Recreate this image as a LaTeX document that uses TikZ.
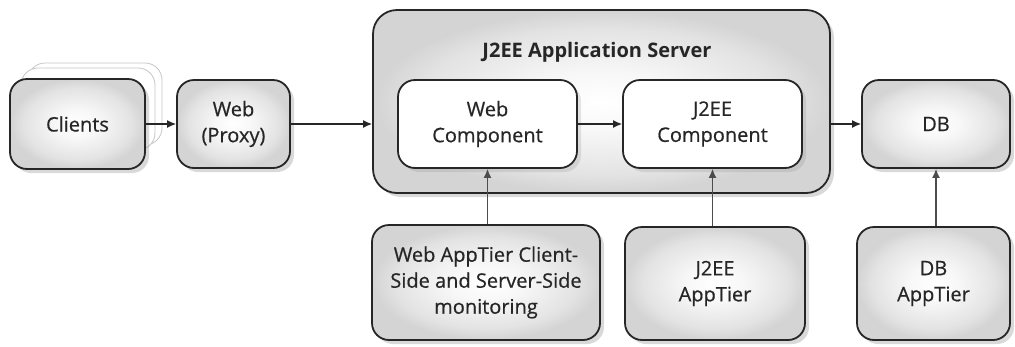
\documentclass[tikz,border=0pt]{standalone}
\usepackage{fontspec}
\setmainfont{Open Sans}
\newfontfamily\medfont[FakeBold=0.6]{Open Sans}
\usetikzlibrary{shadows,arrows.meta}
\pgfdeclareradialshading{softgray}{\pgfpoint{0bp}{0bp}}{color(0bp)=(white); color(8bp)=(black!3); color(20bp)=(black!11); color(25bp)=(black!17); color(50bp)=(black!17)}
\begin{document}
\begin{tikzpicture}[x=1pt,y=-1pt,
  lbl/.style={font=\medfont\fontsize{20}{26}\selectfont, text=black!85, align=center},
  box/.style={draw=black!85, line width=1.8pt, rounded corners=17pt,
    shading=softgray,
    drop shadow={shadow xshift=4pt, shadow yshift=-4pt, opacity=0.3, fill=gray},
    inner sep=0pt, lbl},
  wbox/.style={draw=black!85, line width=1.8pt, rounded corners=17pt, fill=white,
    drop shadow={shadow xshift=4pt, shadow yshift=-4pt, opacity=0.2, fill=gray},
    inner sep=0pt, lbl},
  ghost/.style={draw=gray!45, line width=0.8pt, rounded corners=17pt, fill=white, inner sep=0pt},
  conn/.style={draw=black!85, line width=1.3pt, -{Latex[length=9pt,width=8pt]}},
  vconn/.style={draw=black!70, line width=1.3pt, -{Latex[length=9pt,width=8pt]}}
]
\useasboundingbox (0,0) rectangle (1015,346);

% clients stack
\node[ghost, minimum width=134pt, minimum height=82pt] (c2) at (95,104) {};
\node[ghost, minimum width=134pt, minimum height=82pt] (c1) at (88,109) {};
\node[box, minimum width=135pt, minimum height=90pt] (clients) at (77.5,124) {Clients};

\node[box, minimum width=113pt, minimum height=88pt] (web) at (233.5,124) {Web\\(Proxy)};

\node[box, rounded corners=24pt, minimum width=457pt, minimum height=183pt] (server) at (601.5,101.5) {};
\node[lbl, font=\fontsize{20}{26}\selectfont\bfseries] (title) at (597,52) {J2EE Application Server};

\node[wbox, minimum width=179pt, minimum height=88pt] (webcomp) at (487.5,124) {Web\\Component};
\node[wbox, minimum width=179pt, minimum height=88pt] (j2eecomp) at (712.5,124) {J2EE\\Component};

\node[box, minimum width=148pt, minimum height=88pt] (db) at (936,124) {DB};

\node[box, minimum width=228pt, minimum height=115pt] (webapp) at (486,282.5) {Web AppTier Client-\\Side and Server-Side\\monitoring};
\node[box, minimum width=180pt, minimum height=113pt] (j2eeapp) at (715,283.5) {J2EE\\AppTier};
\node[box, minimum width=153pt, minimum height=113pt] (dbapp) at (933.5,283.5) {DB\\AppTier};

\draw[conn] (clients.east) -- (web.west);
\draw[conn] (web.east) -- (web.east -| server.west);
\draw[conn] (webcomp.east) -- (j2eecomp.west);
\draw[conn] (server.east |- db.west) -- (db.west);
\draw[vconn] (webapp.north -| webcomp.south) -- (webcomp.south);
\draw[vconn] (j2eeapp.north -| j2eecomp.south) -- (j2eecomp.south);
\draw[vconn] (dbapp.north -| db.south) -- (db.south);
\end{tikzpicture}
\end{document}
